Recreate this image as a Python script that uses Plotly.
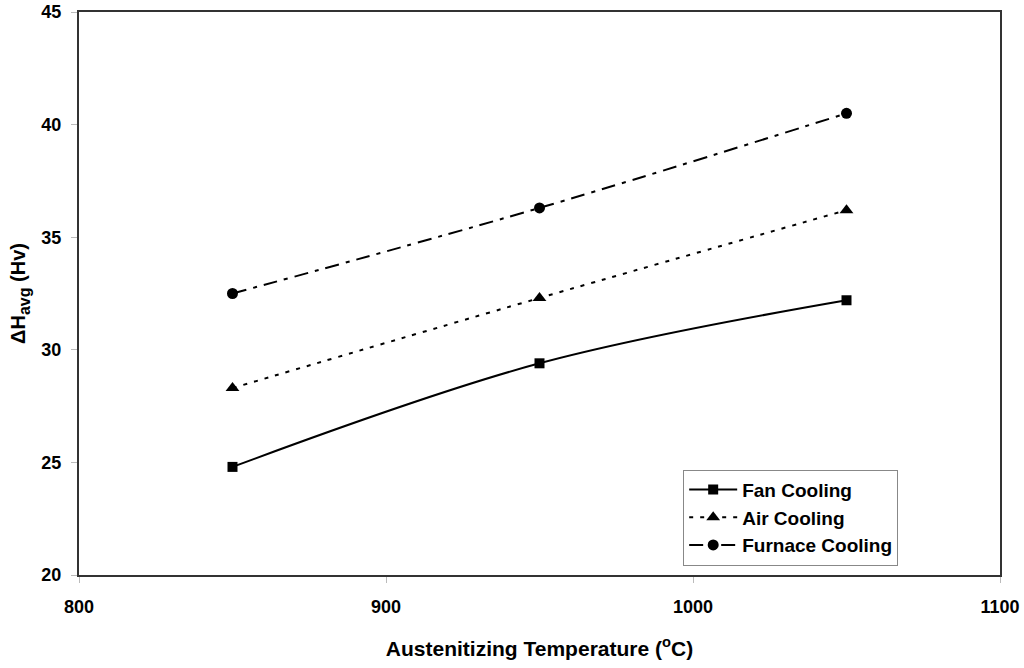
import plotly.graph_objects as go

# Austenitizing temperature (°C)
temperature = [850, 950, 1050]

# Average hardness change (Hv) per cooling method
fan_cooling = [24.8, 29.4, 32.2]
air_cooling = [28.3, 32.3, 36.2]
furnace_cooling = [32.5, 36.3, 40.5]

x_ticks = [800, 900, 1000, 1100]
y_ticks = [20, 25, 30, 35, 40, 45]

FONT = "Liberation Sans, Arial, sans-serif"

series = [
    ("Fan Cooling", fan_cooling, "solid", "square", 10),
    ("Air Cooling", air_cooling, "4px,7px", "triangle-up", 12),
    ("Furnace Cooling", furnace_cooling, "14px,7px,4px,7px", "circle", 11),
]

fig = go.Figure()
for name, values, dash, symbol, msize in series:
    fig.add_trace(go.Scatter(
        x=temperature, y=values, name=name,
        mode="lines+markers",
        line=dict(color="black", width=2, dash=dash, shape="spline", smoothing=1.0),
        marker=dict(symbol=symbol, size=msize, color="black"),
    ))

axis_common = dict(
    showline=True, linecolor="#333333", linewidth=2, mirror=True,
    showgrid=False, zeroline=False, automargin=False,
    ticks="outside", ticklen=6, tickcolor="#bbbbbb", tickwidth=1,
    tickfont=dict(family=FONT, size=18, color="black", weight="bold"),
)

fig.update_xaxes(
    range=[800, 1100], tickvals=x_ticks,
    title=dict(text="<b>Austenitizing Temperature (<sup>o</sup>C)</b>",
               font=dict(family=FONT, size=21, color="black"), standoff=26),
    ticklabelstandoff=8,
    **axis_common,
)
fig.update_yaxes(
    range=[20, 45], tickvals=y_ticks,
    title=dict(text="<b>ΔH<sub><span style='font-size:16px'>avg</span></sub> (Hv)</b>",
               font=dict(family=FONT, size=20, color="black"), standoff=10),
    ticklabelstandoff=6,
    **axis_common,
)

fig.update_layout(
    width=1024, height=668,
    margin=dict(l=79, r=24, t=12, b=93),
    paper_bgcolor="white", plot_bgcolor="white",
    showlegend=True,
    legend=dict(
        x=0.656, y=0.187, xanchor="left", yanchor="top",
        bgcolor="white", bordercolor="#888888", borderwidth=1,
        font=dict(family=FONT, size=19, color="black", weight="bold"),
        itemwidth=48,
    ),
)

fig.write_html("out.html")
